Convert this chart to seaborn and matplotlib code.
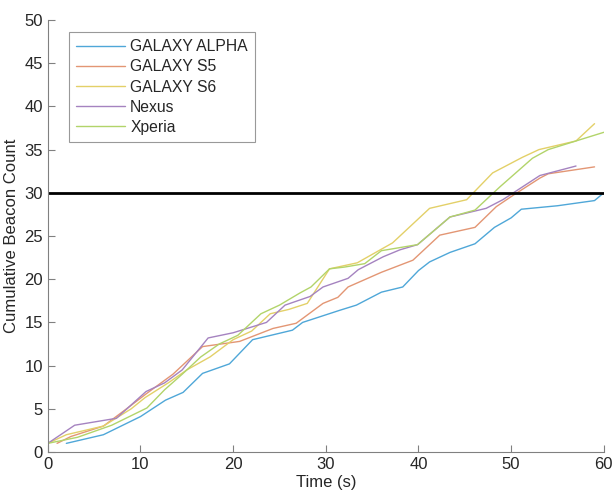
import pandas as pd
import numpy as np
import matplotlib
matplotlib.use('Agg')
import matplotlib.pyplot as plt
import seaborn as sns

# ====================================================================================================
# data

devices = ['GALAXY ALPHA', 'GALAXY S5', 'GALAXY S6', 'Nexus', 'Xperia']

alpha_t = [2, 6, 10, 12.7, 14.6, 16.7, 19.6, 22.1, 26.4, 27.5, 31.5, 33.3, 36, 38.3, 40, 41.2, 43.4, 46.1, 48.2, 50, 51.1, 55, 59, 60]
alpha_y = [1, 2, 4.1, 6, 6.9, 9.1, 10.2, 13, 14.1, 15, 16.4, 17, 18.5, 19.1, 21, 22, 23.1, 24.1, 26, 27.1, 28.1, 28.5, 29.1, 30]

s5_t = [1, 2.5, 6, 8.5, 10.7, 13.5, 16.7, 20.7, 24.3, 26.8, 29.7, 31.3, 32.4, 36, 39.4, 42.3, 46.1, 48.4, 50.2, 53.1, 54, 59]
s5_y = [1, 1.8, 3, 5, 6.8, 9, 12.2, 12.8, 14.3, 14.9, 17.2, 17.9, 19.1, 20.8, 22.2, 25.1, 26, 28.4, 29.7, 31.7, 32.2, 33]

s6_t = [0, 2, 6, 9, 10.5, 13, 15, 17.5, 20, 22, 24, 26, 28, 30.4, 33.4, 37.2, 41.2, 45.2, 48, 51.2, 53, 57, 59]
s6_y = [1, 2, 3, 5, 6.3, 8, 9.5, 11, 13, 14, 16, 16.5, 17.2, 21.2, 21.9, 24.2, 28.2, 29.2, 32.3, 34.1, 35, 36, 38]

nexus_t = [0, 2.9, 7.4, 10.6, 12.6, 14.5, 17.3, 20, 23.6, 25.6, 28.3, 29.7, 32.4, 33.5, 36.2, 38, 39.9, 43.4, 47.3, 49.1, 53.1, 57]
nexus_y = [1, 3.1, 3.9, 7, 8, 9.5, 13.2, 13.8, 15, 17, 18, 19.1, 20.1, 21.1, 22.6, 23.4, 24, 27.2, 28.2, 29.2, 32, 33.1]

xperia_t = [0, 3.2, 6.9, 10.7, 12.6, 14.5, 16.5, 18.5, 20.5, 23, 25, 27.2, 28.4, 30.4, 32, 34.2, 36, 39.9, 43.4, 46.1, 48.8, 52.3, 54, 57, 60]
xperia_y = [1, 1.7, 3.1, 5.1, 7.2, 9, 11, 12.5, 13.5, 16, 17, 18.4, 19.1, 21.2, 21.4, 21.8, 23.3, 24, 27.2, 28, 30.7, 34, 35, 36, 37]

threshold = 30

# ====================================================================================================

def build_frame():
    parts = []
    for name, t, y in zip(devices,
                          [alpha_t, s5_t, s6_t, nexus_t, xperia_t],
                          [alpha_y, s5_y, s6_y, nexus_y, xperia_y]):
        parts.append(pd.DataFrame({'time': t, 'count': y, 'device': name}))
    return pd.concat(parts, ignore_index=True)

# ====================================================================================================

def main():
    df = build_frame()

    sns.set_style('white')
    plt.rcParams['font.family'] = ['Liberation Sans', 'DejaVu Sans']

    colors = ['#4fa7d8', '#e39674', '#e3d068', '#a583c0', '#b2d46a']
    palette = dict(zip(devices, colors))

    fig = plt.figure(figsize=(6.13, 5.0), dpi=100)
    ax = fig.add_axes([0.078, 0.096, 0.907, 0.864])

    sns.lineplot(data=df, x='time', y='count', hue='device', hue_order=devices,
                 palette=palette, estimator=None, sort=False, linewidth=1.0, ax=ax)

    ax.axhline(threshold, color='black', linewidth=2)

    ax.set_xlim(0, 60)
    ax.set_ylim(0, 50)
    ax.set_xticks(np.arange(0, 61, 10))
    ax.set_yticks(np.arange(0, 51, 5))

    for side in ['top', 'right']:
        ax.spines[side].set_visible(False)
    for side in ['left', 'bottom']:
        ax.spines[side].set_color('#808080')
        ax.spines[side].set_linewidth(0.8)
    ax.tick_params(direction='in', length=5, width=0.8, color='#808080',
                   labelsize=12, labelcolor='#262626', left=True, bottom=True)

    ax.set_xlabel('Time (s)', fontsize=12, color='#262626', labelpad=2)
    ax.set_ylabel('Cumulative Beacon Count', fontsize=12, color='#262626', labelpad=4)

    leg = ax.legend(loc='upper left', bbox_to_anchor=(0.038, 0.972), fontsize=11.3,
                    frameon=True, fancybox=False, handlelength=3.1, handletextpad=0.35,
                    labelspacing=0.33, borderpad=0.45, borderaxespad=0.0)
    leg.get_frame().set_edgecolor('#808080')
    leg.get_frame().set_linewidth(0.8)
    for h in leg.get_lines():
        h.set_linewidth(1.0)

    plt.savefig('out.png', dpi=100)

# ====================================================================================================

if __name__ == '__main__':
    main()
